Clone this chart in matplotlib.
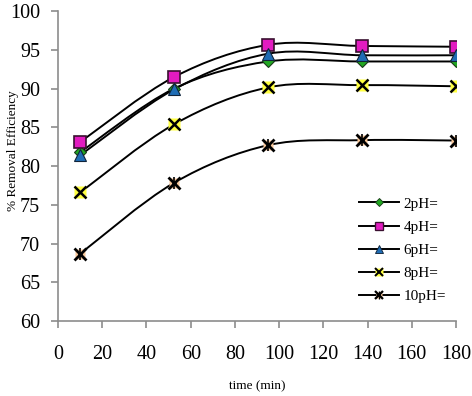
import numpy as np
import matplotlib
matplotlib.use('Agg')
import matplotlib.pyplot as plt
from matplotlib.path import Path
from matplotlib.patches import PathPatch
from matplotlib.lines import Line2D

# data
time = [10, 52.5, 95, 137.5, 180]
ph2 = [81.8, 90.0, 93.5, 93.5, 93.5]
ph4 = [83.1, 91.5, 95.65, 95.5, 95.4]
ph6 = [81.4, 89.9, 94.5, 94.3, 94.3]
ph8 = [76.6, 85.4, 90.15, 90.45, 90.3]
ph10 = [68.7, 77.85, 82.7, 83.35, 83.3]
labels = ['2pH=', '4pH=', '6pH=', '8pH=', '10pH=']

plt.rcParams['font.family'] = ['Liberation Serif', 'DejaVu Serif']


def smooth_path(x, y):
    # excel-style smoothed line: cubic bezier through the points
    p = np.column_stack([x, y])
    n = len(p)
    verts = [p[0]]
    codes = [Path.MOVETO]
    for i in range(n - 1):
        p0 = p[i - 1] if i > 0 else p[i]
        p3 = p[i + 2] if i + 2 < n else p[i + 1]
        c1 = p[i] + (p[i + 1] - p0) / 6
        c2 = p[i + 1] - (p3 - p[i]) / 6
        verts += [c1, c2, p[i + 1]]
        codes += [Path.CURVE4] * 3
    return Path(verts, codes)


fig = plt.figure(figsize=(4.72, 3.96), dpi=100)
ax = fig.add_axes([0.123, 0.189, 0.843, 0.783])

for s in [ph2, ph4, ph6, ph8, ph10]:
    ax.add_patch(PathPatch(smooth_path(time, s), fill=False, color='black', lw=1.4, zorder=2))

# marker styles (drawn at full size on the plot, smaller in the legend)
styles = [
    [dict(marker='D', ms=6, mfc='#22A822', mec='#1a3a1a', mew=0.8)],
    [dict(marker='s', ms=9, mfc='#E21BC0', mec='#3a1030', mew=1.2)],
    [dict(marker='^', ms=8.5, mfc='#1F6DB5', mec='#10243a', mew=0.8)],
    [dict(marker='s', ms=8, mfc='#FFFF40', mec='none'),
     dict(marker='x', ms=9, mec='black', mew=1.8)],
    [dict(marker='s', ms=7, mfc='#F8C79A', mec='none'),
     dict(marker='x', ms=8, mec='black', mew=2),
     dict(marker='|', ms=9, mec='black', mew=1.2)],
]
series = [ph2, ph4, ph6, ph8, ph10]

leg_handles = []
for s, st in zip(series, styles):
    for k, d in enumerate(st):
        ax.plot(time, s, ls='none', zorder=3 + k, **d)
    parts = [Line2D([], [], color='black', lw=1.4)]
    for d in st:
        d2 = dict(d)
        d2['ms'] = d['ms'] * 0.65
        if 'mew' in d:
            d2['mew'] = d['mew'] * 0.8
        parts.append(Line2D([], [], ls='none', **d2))
    leg_handles.append(tuple(parts))

ax.set_xlim(0, 180)
ax.set_ylim(60, 100)
ax.set_xticks(range(0, 181, 20))
ax.set_yticks(range(60, 101, 5))
for sp in ['top', 'right']:
    ax.spines[sp].set_visible(False)
for sp in ['left', 'bottom']:
    ax.spines[sp].set_color('#8c8c8c')
    ax.spines[sp].set_linewidth(1.2)
ax.tick_params(direction='out', length=5, width=1.2, color='#8c8c8c', labelsize=14.5)
ax.tick_params(axis='x', pad=12)
ax.tick_params(axis='y', pad=8)

ax.set_xlabel('time (min)', fontsize=9.5, labelpad=12)
ax.set_ylabel('% Removal Efficiency', fontsize=9.5)
ax.yaxis.set_label_coords(-0.097, 0.55)

ax.legend(leg_handles, labels, loc='upper left', bbox_to_anchor=(0.757, 0.40), frameon=False,
          fontsize=11, handlelength=2.6, handletextpad=0.3, labelspacing=0.62,
          borderpad=0, borderaxespad=0)

fig.savefig('out.png', dpi=100)
